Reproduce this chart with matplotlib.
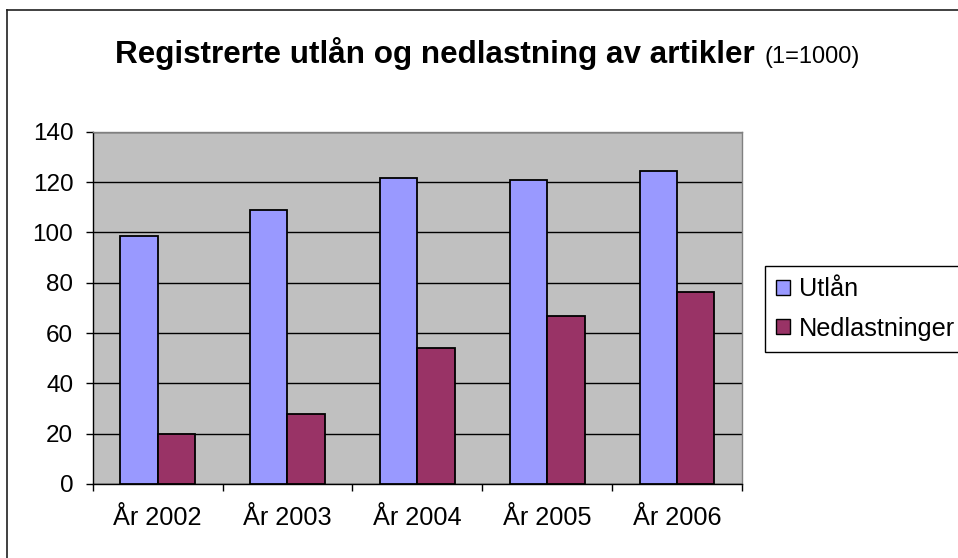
import matplotlib
matplotlib.use("Agg")
import matplotlib.pyplot as plt
from matplotlib.lines import Line2D
from matplotlib.patches import Patch
import numpy as np

categories = ["År 2002", "År 2003", "År 2004", "År 2005", "År 2006"]
utlan = [98.7, 108.9, 121.6, 120.8, 124.5]
nedlastninger = [19.9, 27.9, 53.9, 66.8, 76.2]
series_names = ["Utlån", "Nedlastninger"]
yticks = [0, 20, 40, 60, 80, 100, 120, 140]

plt.rcParams['font.family'] = ['Liberation Sans', 'DejaVu Sans']

W, H = 958, 558
fig = plt.figure(figsize=(W / 100, H / 100), dpi=100)
fig.patch.set_facecolor("white")

left, right, top, bottom = 92.7, 742, 131.7, 484
ax = fig.add_axes([left / W, 1 - bottom / H, (right - left) / W, (bottom - top) / H])
ax.set_facecolor("#C0C0C0")

x = np.arange(len(categories))
w = 0.288
ax.bar(x - w / 2, utlan, w, color="#9999FF", edgecolor="black", linewidth=1.3, zorder=3)
ax.bar(x + w / 2, nedlastninger, w, color="#993366", edgecolor="black", linewidth=1.3, zorder=3)

ax.set_xlim(-0.5, len(categories) - 0.5)
ax.set_ylim(0, 140)
ax.set_yticks(yticks)
ax.set_yticklabels([str(v) for v in yticks], fontsize=17.5)
ax.yaxis.grid(True, color="black", linewidth=1.0, zorder=1)
ax.set_axisbelow(True)

ax.set_xticks(x)
ax.set_xticklabels(categories, fontsize=18.2)
ax.set_xticks(np.arange(-0.5, len(categories)), minor=True)
ax.tick_params(axis="x", which="major", length=0, pad=16)
ax.tick_params(axis="x", which="minor", length=5, width=1, direction="out", color="black")
ax.tick_params(axis="y", which="major", length=5, width=1, direction="out", color="black", pad=9)

for s in ["left", "bottom"]:
    ax.spines[s].set_color("black")
    ax.spines[s].set_linewidth(1.0)
for s in ["top", "right"]:
    ax.spines[s].set_color("#808080")
    ax.spines[s].set_linewidth(1.0)

handles = [Patch(facecolor="#9999FF", edgecolor="black", linewidth=1.0),
           Patch(facecolor="#993366", edgecolor="black", linewidth=1.0)]
leg = fig.legend(handles, series_names, loc="upper left",
                 bbox_to_anchor=(765 / W, 1 - 266 / H), fontsize=18.2,
                 frameon=True, fancybox=False, framealpha=1, edgecolor="black",
                 borderaxespad=0, borderpad=0.45, handlelength=0.55, handleheight=0.55,
                 handletextpad=0.33, labelspacing=0.6)
leg.get_frame().set_linewidth(1.0)

fig.text(115 / W, 1 - 62.7 / H, "Registrerte utlån og nedlastning av artikler",
         fontsize=22.6, fontweight="bold", ha="left", va="baseline")
fig.text(765 / W, 1 - 62.7 / H, "(1=1000)", fontsize=17, ha="left", va="baseline")

fig.add_artist(Line2D([6.5 / W, 6.5 / W], [0, 1 - 10 / H], color="#202020", linewidth=1.2,
                      transform=fig.transFigure))
fig.add_artist(Line2D([6.5 / W, 1], [1 - 10 / H, 1 - 10 / H], color="#202020", linewidth=1.2,
                      transform=fig.transFigure))

fig.savefig("out.png", dpi=100)
